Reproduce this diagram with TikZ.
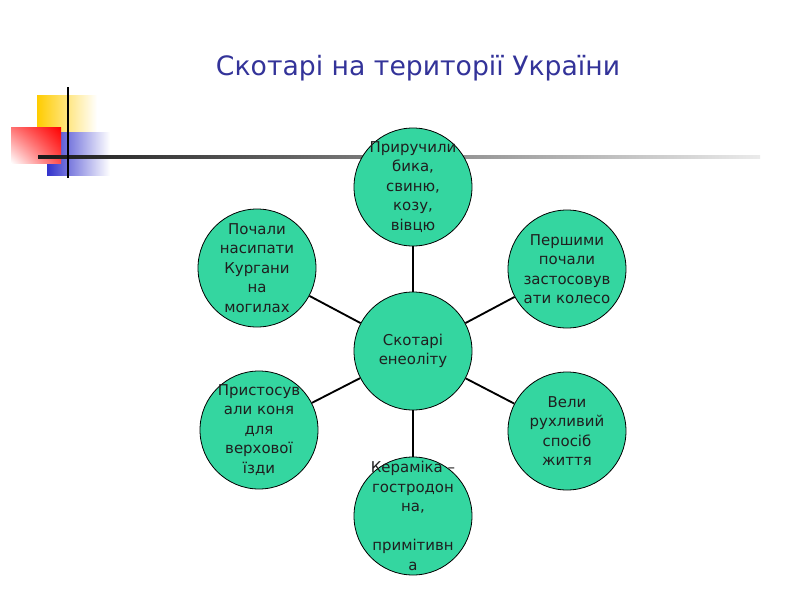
\documentclass[tikz,border=0pt]{standalone}
\usepackage{fontspec}
\setmainfont{DejaVu Sans}
\usetikzlibrary{shadings}
\definecolor{circfill}{RGB}{52,214,160}
\definecolor{titleblue}{RGB}{51,51,153}
\definecolor{decoyellow}{RGB}{255,204,0}
\definecolor{decoblue}{RGB}{51,51,204}
\definecolor{decored}{RGB}{255,0,0}
\tikzset{
  circ/.style={circle, draw=black, line width=0.6pt, fill=circfill, minimum size=88.5pt, inner sep=0pt},
  txt/.style={align=center, font=\fontsize{11.2}{14.6}\selectfont, text=black!88, inner sep=0pt},
  conn/.style={draw=black, line width=1.4pt},
  titlestyle/.style={font=\fontsize{20}{24}\selectfont, text=titleblue}
}
\begin{document}
\begin{tikzpicture}[x=0.75pt, y=-0.75pt]
\useasboundingbox (0,0) rectangle (800,600);
% decoration
\shade[left color=decoyellow, middle color=decoyellow, right color=white] (37,95) rectangle (97,135);
\shade[left color=decoblue, middle color=decoblue, right color=white] (47,132) rectangle (110,175);
\shade[upper right=decored, upper left=decored!55!white, lower right=decored!70!white, lower left=white] (11,127) rectangle (61,163);
\shade[left color=black!90, right color=black!8] (38,155.8) rectangle (760,158.6);
\draw[black, line width=1.5pt] (68,87) -- (68,178);
% title
\node[titlestyle] (title) at (418,68) {Скотарі на території України};
% circles
\node[circ, label={[txt]center:{Скотарі\\енеоліту}}] (c) at (413,351) {};
\node[circ, label={[txt]center:{Приручили\\бика,\\свиню,\\козу,\\вівцю}}] (t) at (413,187) {};
\node[circ, label={[txt]center:{Почали\\насипати\\Кургани\\на\\могилах}}] (ul) at (257,268) {};
\node[circ, label={[txt]center:{Першими\\почали\\застосовув\\ати колесо}}] (ur) at (567,269) {};
\node[circ, label={[txt]center:{Пристосув\\али коня\\для\\верхової\\їзди}}] (ll) at (259,430) {};
\node[circ, label={[txt]center:{Вели\\рухливий\\спосіб\\життя}}] (lr) at (567,431) {};
\node[circ, label={[txt]center:{Кераміка –\\гостродон\\на,\\~\\примітивн\\а}}] (b) at (413,516) {};
% connectors
\draw[conn] (c) -- (t);
\draw[conn] (c) -- (ul);
\draw[conn] (c) -- (ur);
\draw[conn] (c) -- (ll);
\draw[conn] (c) -- (lr);
\draw[conn] (c) -- (b);
\end{tikzpicture}
\end{document}
